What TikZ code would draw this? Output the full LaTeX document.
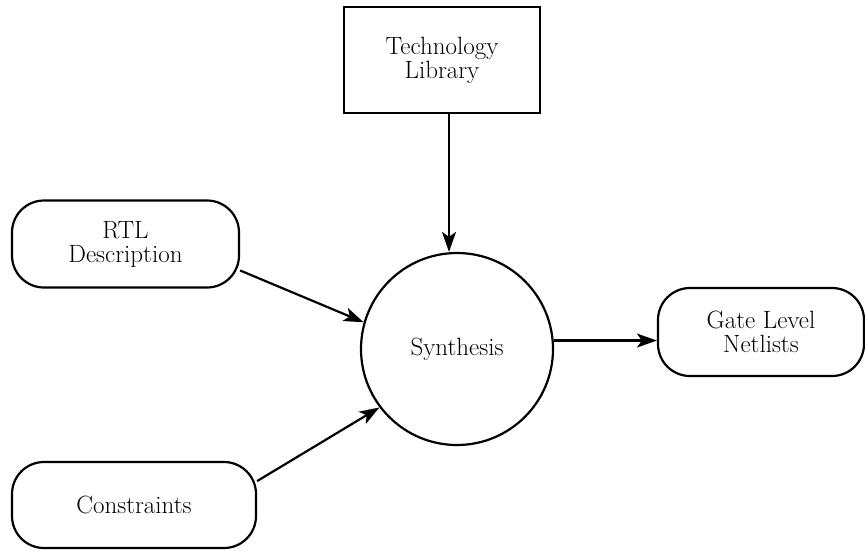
\documentclass[tikz,border=0pt]{standalone}
\usepackage{fontspec}
\usetikzlibrary{arrows.meta}
\begin{document}
\begin{tikzpicture}[x=1pt,y=-1pt,line width=2.2pt,
  lbl/.style={font=\fontsize{25}{24}\selectfont, align=center, inner sep=0pt},
  sqbox/.style={lbl, draw, rectangle},
  rbox/.style={lbl, draw, rectangle, rounded corners=32pt},
  proc/.style={lbl, draw, circle, minimum size=192pt},
  arr/.style={-{Stealth[length=20pt,width=14pt,inset=5pt]}}]
\useasboundingbox (0,0) rectangle (865,550);
\node[sqbox, minimum width=196pt, minimum height=106pt] (tech) at (442,60) {Technology\\Library};
\node[rbox, minimum width=227pt, minimum height=87pt] (rtl) at (125.5,244) {RTL\\Description};
\node[rbox, minimum width=244pt, minimum height=86pt] (cons) at (134,505) {Constraints};
\node[rbox, minimum width=206pt, minimum height=88pt] (gate) at (761,332) {Gate Level\\Netlists};
\node[proc] (syn) at (457,349) {Synthesis};
\draw[arr] ([xshift=7pt]tech.south) -- ([xshift=7pt]tech.south |- syn.north);
\draw[arr] (rtl.-13) -- (syn.164);
\draw[arr] (cons.11) -- (syn.217);
\draw[arr] (syn.5) -- (syn.5 -| gate.west);
\end{tikzpicture}
\end{document}
